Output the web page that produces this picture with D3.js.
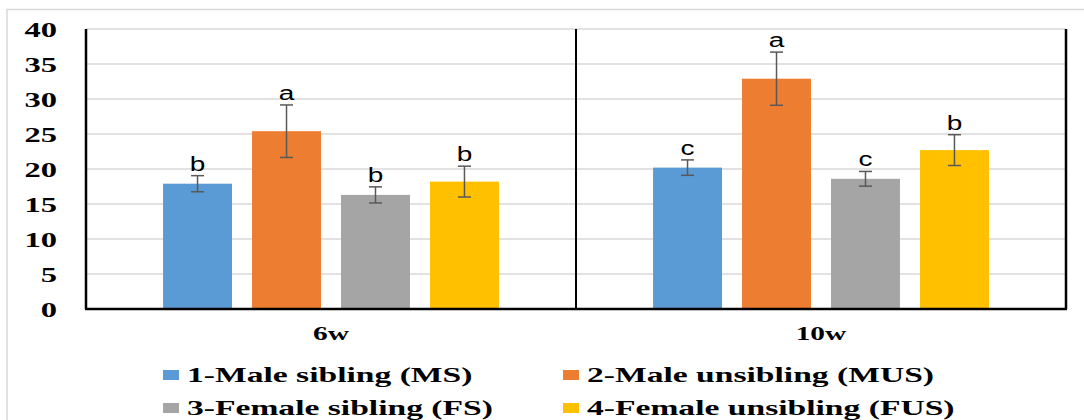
<!DOCTYPE html>
<html>
<head>
<meta charset="utf-8">
<script src="https://cdn.jsdelivr.net/npm/d3@7"></script>
<style>
  html, body { margin: 0; padding: 0; background: #fff; }
  svg { display: block; }
</style>
</head>
<body>
<svg id="chart" width="1084" height="420"></svg>
<script>
// ---- data ----
const groups = ["6w", "10w"];
const seriesNames = ["1-Male sibling (MS)", "2-Male unsibling (MUS)", "3-Female sibling (FS)", "4-Female unsibling (FUS)"];
const values6w = [17.9, 25.4, 16.3, 18.2];
const values10w = [20.2, 32.9, 18.6, 22.7];
const errors6w = [1.15, 3.75, 1.15, 2.2];
const errors10w = [1.1, 3.8, 1.05, 2.2];
const letters6w = ["b", "a", "b", "b"];
const letters10w = ["c", "a", "c", "b"];
const yTicks = [0, 5, 10, 15, 20, 25, 30, 35, 40];

const colors = ["#5b9bd5", "#ed7d31", "#a5a5a5", "#ffc000"];

const rows = [
  { group: groups[0], values: values6w, errors: errors6w, letters: letters6w },
  { group: groups[1], values: values10w, errors: errors10w, letters: letters10w }
];

const svg = d3.select("#chart");
const plotL = 86, plotR = 1066, plotT = 29, plotB = 309;
const serifFont = "'Liberation Serif', 'Times New Roman', serif";
const sansFont = "'Liberation Sans', Arial, sans-serif";
const sx = 1.55; // horizontal stretch of text in the reference

// outer light frame
svg.append("rect")
  .attr("x", 7).attr("y", 9.5)
  .attr("width", 1100).attr("height", 430)
  .attr("fill", "none").attr("stroke", "#d9d9d9").attr("stroke-width", 1.5);

const y = d3.scaleLinear().domain([0, 40]).range([plotB, plotT]);
const x0 = d3.scaleBand().domain(groups).range([plotL, plotR]).padding(0);
const x1 = d3.scaleBand().domain(d3.range(seriesNames.length))
  .range([0, x0.bandwidth()]).paddingInner(0.225).paddingOuter(0.866);

// gridlines
svg.append("g").selectAll("line").data(yTicks.filter(d => d > 0)).join("line")
  .attr("x1", plotL).attr("x2", plotR)
  .attr("y1", d => y(d)).attr("y2", d => y(d))
  .attr("stroke", "#d9d9d9").attr("stroke-width", 1.5);

// y axis tick labels
const yAxis = svg.append("g").attr("transform", `translate(${plotL},0)`)
  .attr("font-family", null)
  .call(d3.axisLeft(y).tickValues(yTicks).tickSize(0).tickFormat(d3.format("d")));
yAxis.attr("font-family", serifFont).attr("font-size", 22);
yAxis.select(".domain").remove();
yAxis.selectAll("text")
  .attr("x", 0).attr("dy", "0.34em")
  .attr("text-anchor", "end")
  .attr("transform", `translate(-29,0) scale(${sx},1)`)
  .style("font-family", serifFont).style("font-weight", "bold")
  .style("font-size", "21px").attr("fill", "#000");

// bars
const gGroups = svg.append("g").selectAll("g").data(rows).join("g")
  .attr("transform", d => `translate(${x0(d.group)},0)`);

gGroups.selectAll("rect").data(d => d.values.map((v, i) => ({ v, i }))).join("rect")
  .attr("x", d => x1(d.i)).attr("width", x1.bandwidth())
  .attr("y", d => y(d.v)).attr("height", d => y(0) - y(d.v))
  .attr("fill", d => colors[d.i]);

// error bars
const capW = 6.5;
const eb = gGroups.selectAll("g.err").data(d => d.values.map((v, i) => ({ v, e: d.errors[i], i }))).join("g").attr("class", "err");
eb.append("line")
  .attr("x1", d => x1(d.i) + x1.bandwidth() / 2).attr("x2", d => x1(d.i) + x1.bandwidth() / 2)
  .attr("y1", d => y(d.v + d.e)).attr("y2", d => y(d.v - d.e));
eb.append("line")
  .attr("x1", d => x1(d.i) + x1.bandwidth() / 2 - capW).attr("x2", d => x1(d.i) + x1.bandwidth() / 2 + capW)
  .attr("y1", d => y(d.v + d.e)).attr("y2", d => y(d.v + d.e));
eb.append("line")
  .attr("x1", d => x1(d.i) + x1.bandwidth() / 2 - capW).attr("x2", d => x1(d.i) + x1.bandwidth() / 2 + capW)
  .attr("y1", d => y(d.v - d.e)).attr("y2", d => y(d.v - d.e));
eb.selectAll("line").attr("stroke", "#595959").attr("stroke-width", 1.5);

// significance letters
gGroups.selectAll("text.sig").data(d => d.values.map((v, i) => ({ v, e: d.errors[i], l: d.letters[i], i }))).join("text")
  .attr("class", "sig")
  .attr("text-anchor", "middle")
  .attr("transform", d => `translate(${x1(d.i) + x1.bandwidth() / 2},${y(d.v + d.e) - 5}) scale(1.4,1)`)
  .style("font-family", sansFont).style("font-size", "20px").attr("fill", "#000")
  .text(d => d.l);

// axis frame lines
const frame = svg.append("g").attr("stroke", "#000").attr("stroke-width", 2.5).attr("fill", "none");
frame.append("line").attr("x1", plotL).attr("x2", plotL).attr("y1", plotT).attr("y2", plotB);
frame.append("line").attr("x1", plotR).attr("x2", plotR).attr("y1", plotT).attr("y2", plotB);
frame.append("line").attr("x1", plotL - 1).attr("x2", plotR + 1).attr("y1", plotB).attr("y2", plotB);
frame.append("line").attr("x1", x0(groups[1])).attr("x2", x0(groups[1])).attr("y1", plotT).attr("y2", plotB)
  .attr("stroke-width", 2);

// x category labels
svg.append("g").selectAll("text").data(groups).join("text")
  .attr("text-anchor", "middle")
  .attr("transform", d => `translate(${x0(d) + x0.bandwidth() / 2},339.5) scale(${sx},1)`)
  .style("font-family", serifFont).style("font-weight", "bold").style("font-size", "19px")
  .attr("fill", "#000")
  .text(d => d);

// legend
const legendPos = [[163, 382], [563, 382], [163, 415], [563, 415]];
const lg = svg.append("g").selectAll("g").data(seriesNames).join("g")
  .attr("transform", (d, i) => `translate(${legendPos[i][0]},${legendPos[i][1]})`);
lg.append("rect").attr("x", 0).attr("y", -12).attr("width", 16).attr("height", 10)
  .attr("fill", (d, i) => colors[i]);
lg.append("text")
  .attr("transform", `translate(24,0) scale(1.6,1)`)
  .style("font-family", serifFont).style("font-weight", "bold").style("font-size", "21px")
  .attr("fill", "#000")
  .text(d => d);
</script>
</body>
</html>
